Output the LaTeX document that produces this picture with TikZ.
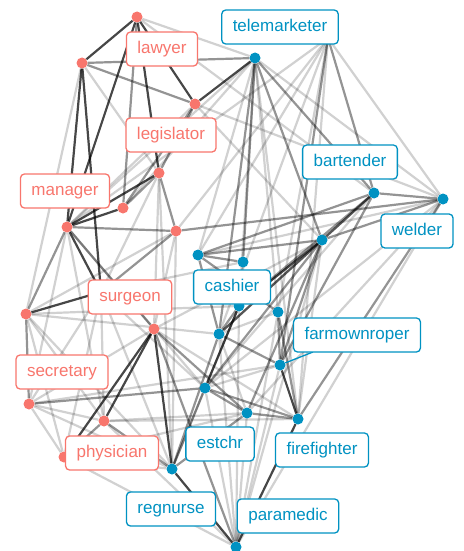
\documentclass[tikz,border=0pt]{standalone}
\usepackage{fontspec}
\setmainfont{Liberation Sans}
\pgfdeclarelayer{edges}
\pgfsetlayers{edges,main}
\definecolor{prof}{HTML}{F8766D}
\definecolor{work}{HTML}{0092C2}
\tikzset{
  pt/.style={circle, fill, inner sep=0pt, minimum size=11pt},
  lbl/.style={draw=#1, text=#1, fill=white, rounded corners=4pt, line width=1.3pt, inner xsep=11pt, inner ysep=0pt,
    minimum height=34pt, text height=12.5pt, text depth=3.5pt, font=\fontsize{17}{20}\selectfont},
  strong/.style={draw=black, line width=2.2pt, draw opacity=.72},
  mid/.style={draw=black, line width=2.2pt, draw opacity=.42},
  faint/.style={draw=black, line width=2.2pt, draw opacity=.18}
}
\begin{document}
\begin{tikzpicture}[x=1pt, y=-1pt]
\useasboundingbox (0,0) rectangle (463,551);
% red group
\node[pt, prof] (r1) at (137,17){};
\node[pt, prof] (r2) at (82,63){};
\node[pt, prof] (r3) at (195,104){};
\node[pt, prof] (r4) at (159,173){};
\node[pt, prof] (r5) at (123,208){};
\node[pt, prof] (r6) at (67,227){};
\node[pt, prof] (r7) at (176,231){};
\node[pt, prof] (r8) at (26,314){};
\node[pt, prof] (r9) at (154,329){};
\node[pt, prof] (r10) at (29,404){};
\node[pt, prof] (r11) at (104,421){};
\node[pt, prof] (r12) at (64,457){};
\coordinate (h) at (101,292);
% blue group
\node[pt, work] (b1) at (255,58){};
\node[pt, work] (b2) at (374,193){};
\node[pt, work] (b3) at (443,199){};
\node[pt, work] (b4) at (322,240){};
\node[pt, work] (b5) at (198,255){};
\node[pt, work] (b6) at (243,262){};
\node[pt, work] (b7) at (239,306){};
\node[pt, work] (b8) at (278,312){};
\node[pt, work] (b9) at (219,334){};
\node[pt, work] (b10) at (280,365){};
\node[pt, work] (b11) at (205,388){};
\node[pt, work] (b12) at (247,413){};
\node[pt, work] (b13) at (298,419){};
\node[pt, work] (b14) at (172,469){};
\node[pt, work] (b15) at (236,547){};
\coordinate (t) at (328,38);

\begin{pgfonlayer}{edges}
\foreach \a/\b in {r1/r2, r1/r3, r1/r4, r1/r6, r2/r6, r2/h, r3/b1, r4/r6, r6/h, h/r8,
  r9/r11, r9/r12, r9/b14, b14/b15, b13/b15, b10/b13, b7/b11, b4/b7, r5/r6}
  \draw[strong] (\a) -- (\b);
\foreach \a/\b in {r1/r5, r2/b1, r2/r3, r3/r4, r3/r5, r4/r5, r4/r7, r6/r7, r6/r8, r6/r9,
  r7/h, r7/b3, r8/r10, r10/b11, r11/b14, r11/r12, r9/b12, r9/b15, b1/b4, b1/b6, b1/b2,
  b1/b9, b2/b3, b2/b4, b2/b5, b2/b9, b2/b10, b3/b4, b3/b13, b4/b5, b4/b9, b4/b11, b4/b12,
  b4/b10, b5/b6, b5/b9, b5/b8, b7/b9, b7/b2, b8/b10, b8/b13, b9/b14, b9/b10, b11/b13,
  b11/b14, b11/b12, b12/b13, b12/b14, t/b2, t/b10}
  \draw[mid] (\a) -- (\b);
\foreach \a/\b in {r1/b1, r1/b2, r2/r8, r2/r4, r3/b3, r3/b4, r3/r6, b1/b3, b1/b5, b1/b7,
  b1/b13, b1/r5, b1/r6, t/b3, t/b5, t/r7, t/b9, t/r6, t/b13, t/b8, b2/b11, b3/b15, b3/b5,
  b3/b12, b3/b11, b4/b13, b6/b7, b8/b9, b8/b1, b9/b12, b9/b15, b10/b11, b12/b15, b14/b7,
  b14/r12, b14/r10, b14/h, b15/b11, b15/b10, b15/b8, b15/r12, b15/r11, b15/b4, b15/b7,
  r4/b14, r4/r9, r4/h, r6/r10, r6/r11, r6/b11, r7/r9, r7/r8, r7/b14, h/r10, h/b11, h/b6,
  h/r11, h/r12, r8/b7, r8/b9, r8/r12, r8/r11, r8/b14, r9/b13, r9/b4, r10/r12, r10/r11,
  r10/b10, r10/r9, r11/b12, r11/b13, r12/b12}
  \draw[faint] (\a) -- (\b);
\end{pgfonlayer}

% labels
\draw[work, line width=1.3pt] (b10) -- (313,352);
\node[lbl=prof] (lawyer) at (162,49) {lawyer};
\node[lbl=prof] (legislator) at (171,135) {legislator};
\node[lbl=prof] (manager) at (65,191) {manager};
\node[lbl=prof] (surgeon) at (130,297) {surgeon};
\node[lbl=prof] (secretary) at (62,372) {secretary};
\node[lbl=prof] (physician) at (112,453) {physician};
\node[lbl=work] (telemarketer) at (280,27) {telemarketer};
\node[lbl=work] (bartender) at (350,162) {bartender};
\node[lbl=work] (welder) at (417,231) {welder};
\node[lbl=work] (cashier) at (232,287) {cashier};
\node[lbl=work] (farmownroper) at (357,335) {farmownroper};
\node[lbl=work] (estchr) at (220,444) {estchr};
\node[lbl=work] (firefighter) at (322,450) {firefighter};
\node[lbl=work] (regnurse) at (171,509) {regnurse};
\node[lbl=work] (paramedic) at (288,516) {paramedic};
\end{tikzpicture}
\end{document}
